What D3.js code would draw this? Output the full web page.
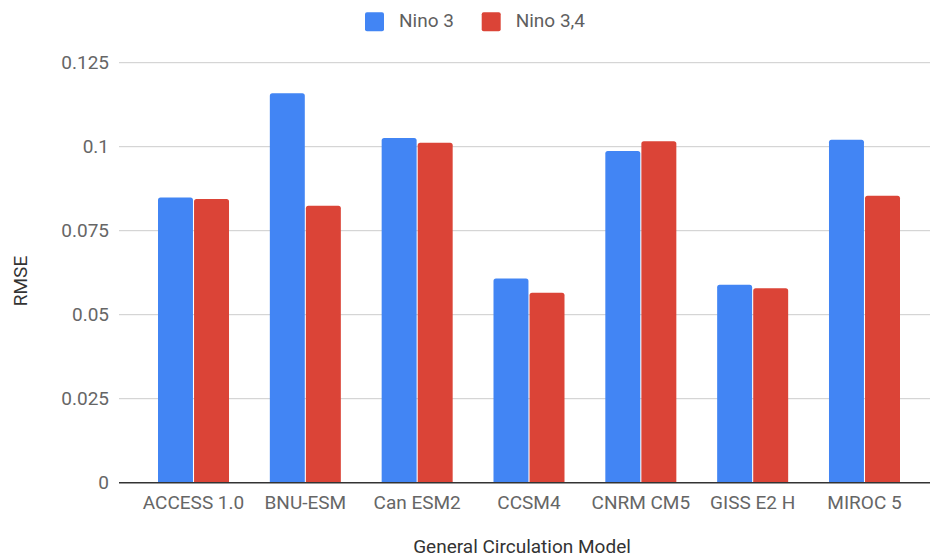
<!DOCTYPE html>
<html>
<head>
<meta charset="utf-8">
<script src="https://cdn.jsdelivr.net/npm/d3@7"></script>
<style>
  html, body { margin: 0; padding: 0; background: #fff; }
  svg text { font-family: Roboto, "Noto Sans", Arial, sans-serif; }
</style>
</head>
<body>
<svg id="chart" width="930" height="560"></svg>
<script>
// RMSE of each General Circulation Model for two ENSO indices
const models = ["ACCESS 1.0", "BNU-ESM", "Can ESM2", "CCSM4", "CNRM CM5", "GISS E2 H", "MIROC 5"];
const nino3  = [0.0849, 0.1159, 0.1026, 0.0608, 0.0987, 0.0589, 0.1021];
const nino34 = [0.0844, 0.0824, 0.1012, 0.0565, 0.1016, 0.0579, 0.0854];
const seriesNames = ["Nino 3", "Nino 3,4"];
const yTicks = [0, 0.025, 0.05, 0.075, 0.1, 0.125];
const yTickLabels = ["0", "0.025", "0.05", "0.075", "0.1", "0.125"];

const colors = ["#4285F4", "#DB4437"];
const svg = d3.select("#chart");

const plotLeft = 119, plotRight = 930, plotTop = 62.7, plotBottom = 482.7;

const y = d3.scaleLinear().domain([0, 0.125]).range([plotBottom, plotTop]);
const x = d3.scaleBand().domain(models).range([158, 900]).paddingInner(0.365).paddingOuter(0);
const xs = d3.scaleBand().domain(seriesNames).range([0, x.bandwidth()]).paddingInner(0.03);

// gridlines
svg.append("g").selectAll("line").data(yTicks.slice(1)).join("line")
  .attr("x1", plotLeft).attr("x2", plotRight)
  .attr("y1", d => y(d)).attr("y2", d => y(d))
  .attr("stroke", "#cccccc").attr("stroke-width", 1);

// y axis labels
const yAxis = d3.axisLeft(y).tickValues(yTicks).tickSize(0).tickPadding(0)
  .tickFormat((d, i) => yTickLabels[i]);
const yg = svg.append("g").attr("transform", `translate(${plotLeft - 10},0)`).call(yAxis);
yg.select(".domain").remove();
yg.selectAll("text").attr("font-size", 19).attr("fill", "#666").attr("font-family", "Roboto, sans-serif");

// bars with slightly rounded tops
function barPath(x0, w, yTop, yBase, r) {
  r = Math.min(r, w / 2, (yBase - yTop));
  return `M${x0},${yBase}V${yTop + r}Q${x0},${yTop} ${x0 + r},${yTop}H${x0 + w - r}Q${x0 + w},${yTop} ${x0 + w},${yTop + r}V${yBase}Z`;
}
const rows = models.map((m, i) => ({ model: m, values: [nino3[i], nino34[i]] }));
const groups = svg.append("g").selectAll("g").data(rows).join("g")
  .attr("transform", d => `translate(${x(d.model)},0)`);
groups.selectAll("path").data(d => d.values.map((v, k) => ({ v, k }))).join("path")
  .attr("d", d => barPath(xs(seriesNames[d.k]), xs.bandwidth(), y(d.v), y(0), 2.5))
  .attr("fill", d => colors[d.k]);

// baseline
svg.append("line")
  .attr("x1", plotLeft).attr("x2", plotRight)
  .attr("y1", y(0)).attr("y2", y(0))
  .attr("stroke", "#333").attr("stroke-width", 1.5);

// x axis labels
const xAxis = d3.axisBottom(x).tickSize(0).tickPadding(0);
const xg = svg.append("g").attr("transform", `translate(0,${y(0)})`).call(xAxis);
xg.select(".domain").remove();
xg.selectAll("text").attr("font-size", 19).attr("fill", "#666")
  .attr("font-family", "Roboto, sans-serif").attr("dy", null).attr("y", 26.5);

// axis titles
svg.append("text").attr("x", 522).attr("y", 553).attr("text-anchor", "middle")
  .attr("font-size", 19).attr("fill", "#333").text("General Circulation Model");
svg.append("text").attr("transform", "translate(26.5,281) rotate(-90)").attr("text-anchor", "middle")
  .attr("font-size", 19).attr("fill", "#333").text("RMSE");

// legend
const legendX = [365, 481.7];
const legend = svg.append("g").selectAll("g").data(seriesNames).join("g")
  .attr("transform", (d, i) => `translate(${legendX[i]},12.3)`);
legend.append("rect").attr("width", 19).attr("height", 19).attr("rx", 2)
  .attr("fill", (d, i) => colors[i]);
legend.append("text").attr("x", 34).attr("y", 15).attr("font-size", 19)
  .attr("fill", "#5f5f5f").text(d => d);
</script>
</body>
</html>
